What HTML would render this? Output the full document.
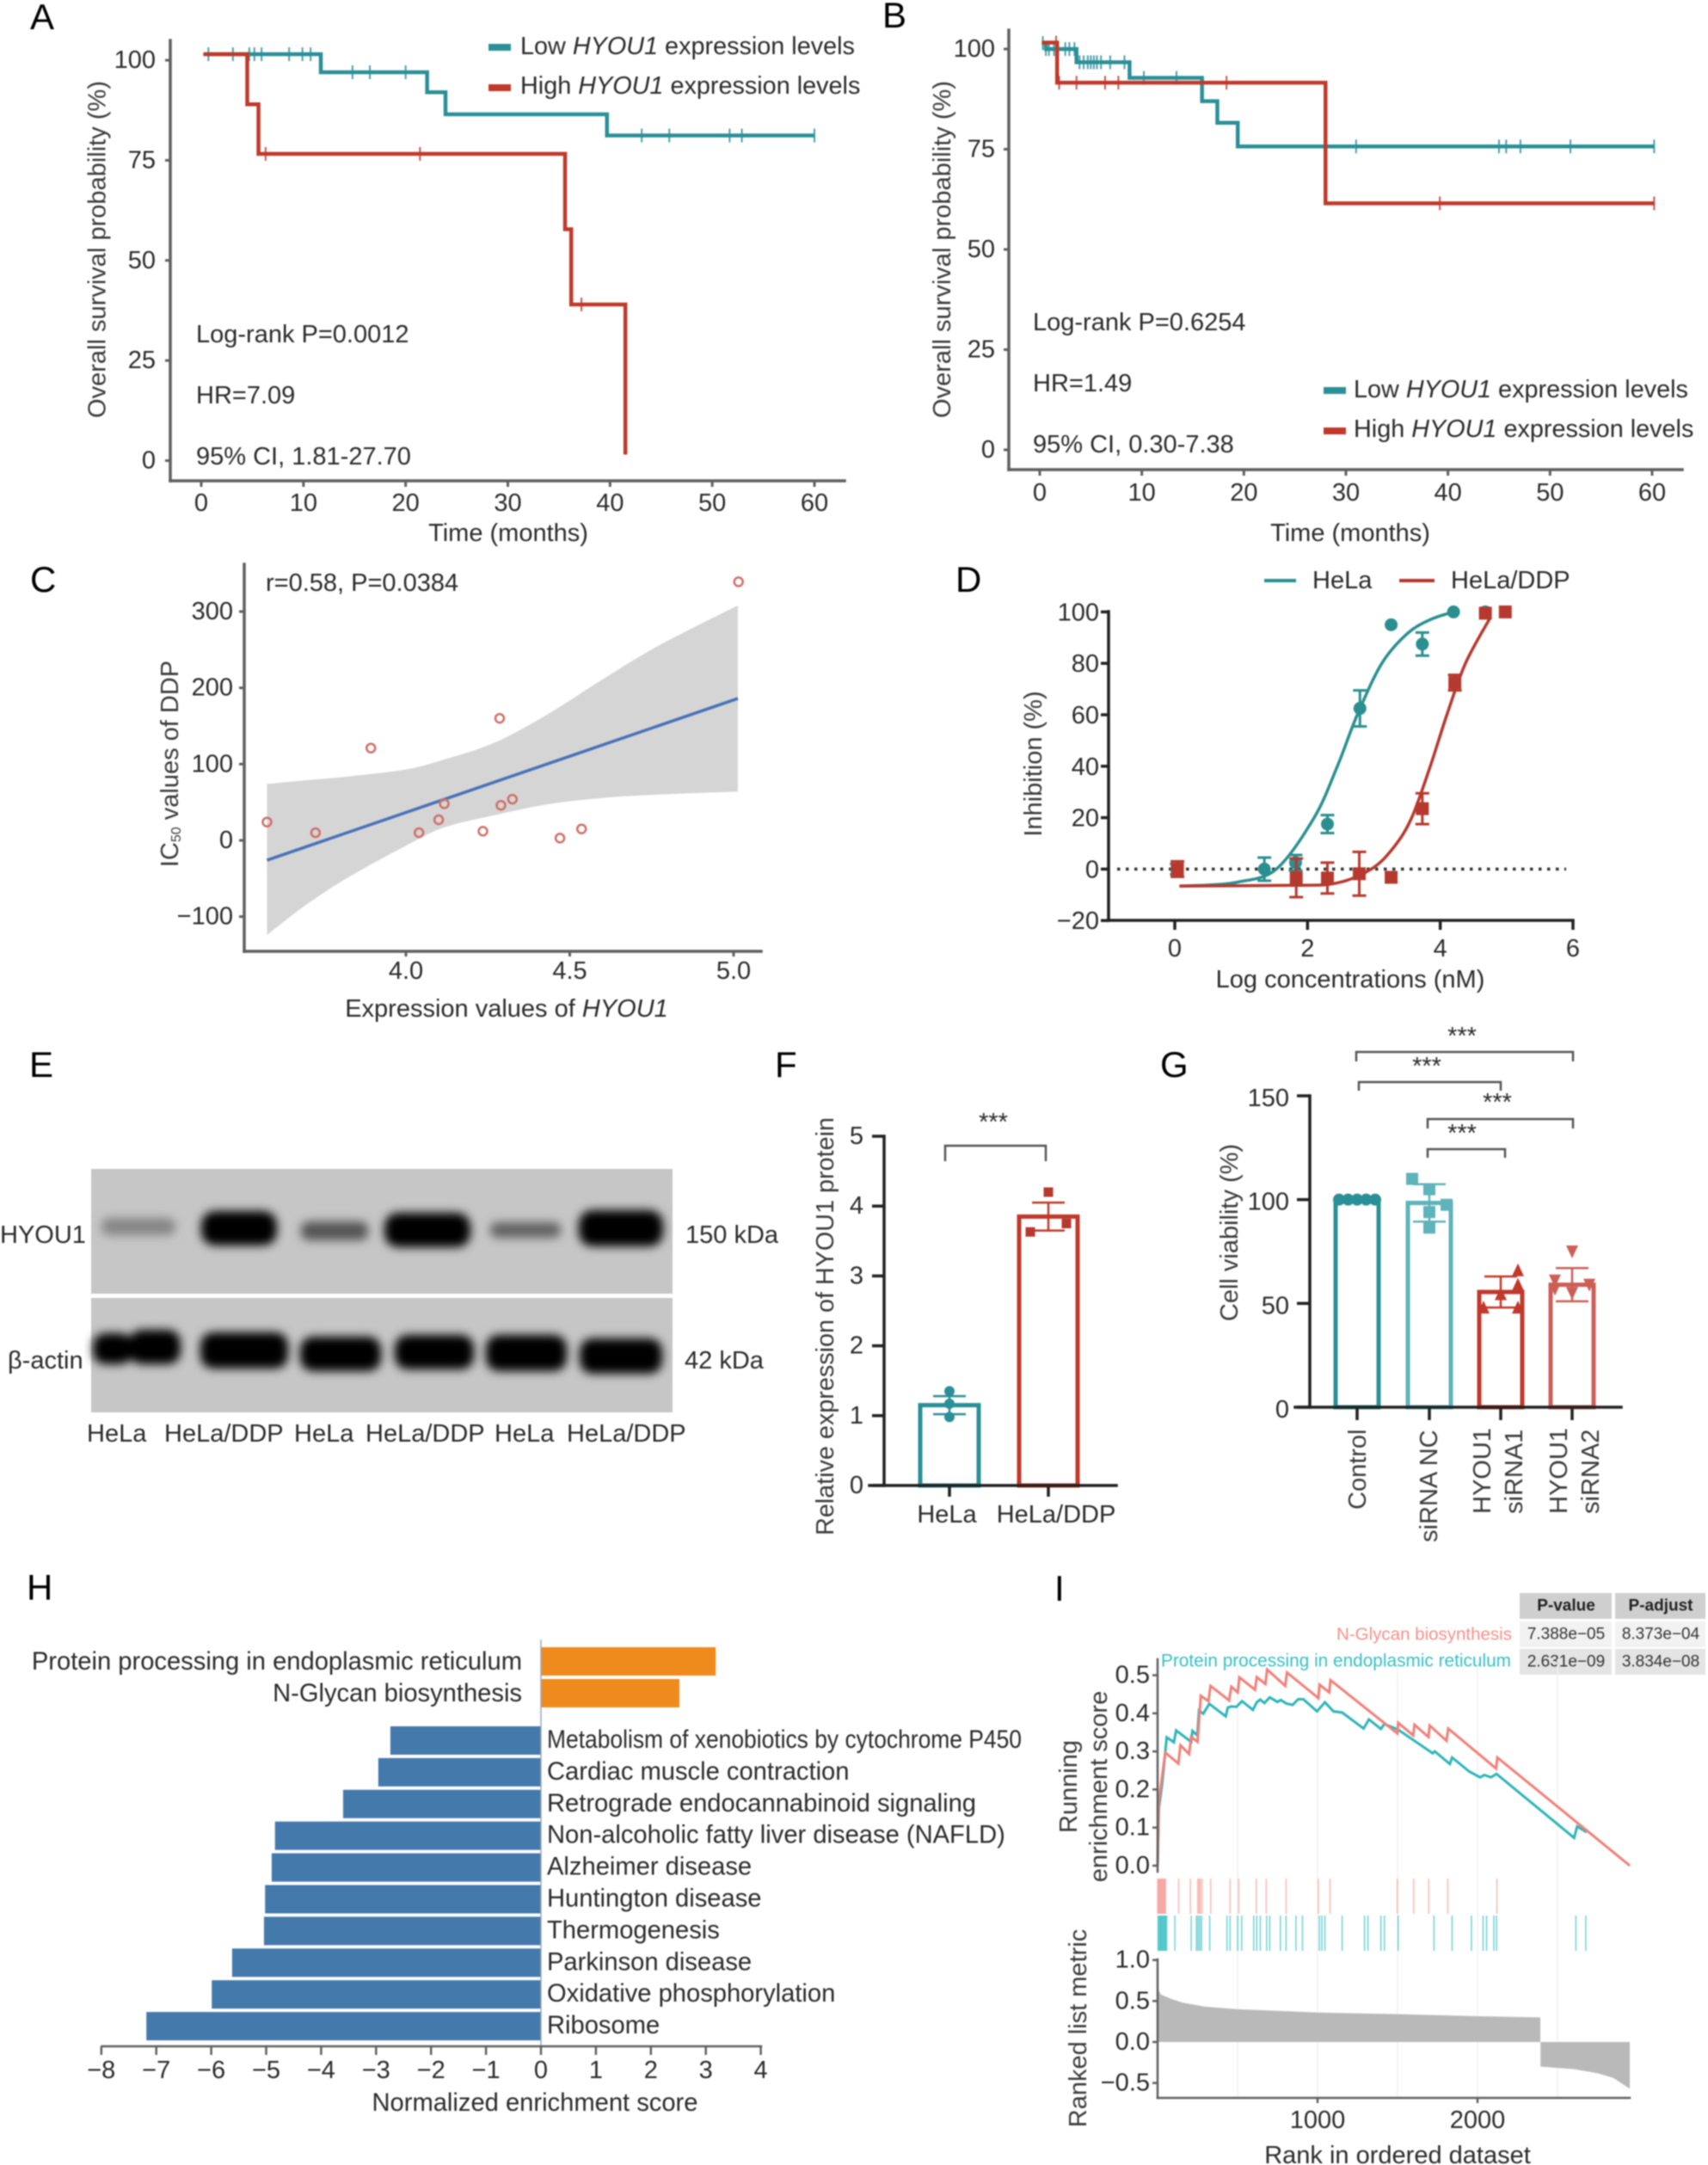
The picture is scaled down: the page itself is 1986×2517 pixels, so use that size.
<!DOCTYPE html>
<html lang="en">
<head>
<meta charset="utf-8">
<title>HYOU1 multi-panel figure</title>
<style>
  html,body{margin:0;padding:0;background:#fff;}
  #figure{display:block;width:1986px;height:2517px;filter:blur(0.8px);}
  text{font-family:"Liberation Sans",Arial,sans-serif;fill:#2b2b2b;font-size:29px;dominant-baseline:central;}
  .letter{font-size:42px;fill:#000;dominant-baseline:auto;}
  .mid{text-anchor:middle;}
  .end{text-anchor:end;}
  .ttl{fill:#3a3a3a;}
  .lgd{font-size:28.8px;}
  .star{font-size:29px;text-anchor:middle;}
  .tbl{font-size:19px;text-anchor:middle;fill:#333;}
  .tblh{font-size:19px;text-anchor:middle;font-weight:bold;fill:#222;}
</style>
</head>
<body>
<svg id="figure" xmlns="http://www.w3.org/2000/svg" width="1986" height="2517" viewBox="0 0 1986 2517">
  <defs>
    <filter id="blur-band" x="-30%" y="-60%" width="160%" height="220%"><feGaussianBlur stdDeviation="5.5"/></filter>
  </defs>
  <rect x="0" y="0" width="1986" height="2517" fill="#fff"/>

  <text class="letter" x="35" y="34">A</text>
  <text class="letter" x="1026" y="32">B</text>
  <text class="letter" x="35" y="688">C</text>
  <text class="letter" x="1111" y="688">D</text>
  <text class="letter" x="34" y="1252">E</text>
  <text class="letter" x="901" y="1252">F</text>
  <text class="letter" x="1349" y="1252">G</text>
  <text class="letter" x="31" y="1860">H</text>
  <text class="letter" x="1226" y="1861">I</text>

  <!-- Panel A -->
  <g id="panel-a">
    <text class="mid ttl" transform="translate(113.5 290) rotate(-90)" textLength="392" lengthAdjust="spacingAndGlyphs">Overall survival probability (%)</text>
    <text class="mid" x="591" y="620">Time (months)</text>
    <rect x="568" y="51" width="26" height="8" fill="#2b8f97"/>
    <rect x="568" y="98" width="26" height="8" fill="#c0392b"/>
    <text class="lgd" x="605" y="54">Low <tspan font-style="italic">HYOU1</tspan> expression levels</text>
    <text class="lgd" x="605" y="100">High <tspan font-style="italic">HYOU1</tspan> expression levels</text>
    <text x="228" y="389">Log-rank P=0.0012</text>
    <text x="228" y="460">HR=7.09</text>
    <text x="228" y="531">95% CI, 1.81-27.70</text>
  </g>

  <!-- Panel B -->
  <g id="panel-b">
    <text class="mid ttl" transform="translate(1096 290) rotate(-90)" textLength="392" lengthAdjust="spacingAndGlyphs">Overall survival probability (%)</text>
    <text class="mid" x="1570" y="620">Time (months)</text>
    <rect x="1539" y="450" width="26" height="8" fill="#2b8f97"/>
    <rect x="1539" y="497" width="26" height="8" fill="#c0392b"/>
    <text class="lgd" x="1574" y="453">Low <tspan font-style="italic">HYOU1</tspan> expression levels</text>
    <text class="lgd" x="1574" y="499">High <tspan font-style="italic">HYOU1</tspan> expression levels</text>
    <text x="1201" y="375">Log-rank P=0.6254</text>
    <text x="1201" y="446">HR=1.49</text>
    <text x="1201" y="517">95% CI, 0.30-7.38</text>
  </g>

  <!-- Panel C -->
  <g id="panel-c">
    <text class="mid ttl" transform="translate(198 888) rotate(-90)">IC<tspan font-size="16" dy="7">50</tspan><tspan dy="-7"> values of DDP</tspan></text>
    <text class="mid" x="589" y="1173">Expression values of <tspan font-style="italic">HYOU1</tspan></text>
    <text x="309" y="678">r=0.58, P=0.0384</text>
  </g>

  <!-- Panel D -->
  <g id="panel-d">
    <text class="mid ttl" transform="translate(1202 888) rotate(-90)">Inhibition (%)</text>
    <text class="mid" x="1570" y="1139">Log concentrations (nM)</text>
    <line x1="1470" x2="1507" y1="675" y2="675" stroke="#2b8f8f" stroke-width="4"/>
    <line x1="1627" x2="1668" y1="675" y2="675" stroke="#b5392e" stroke-width="4"/>
    <text x="1526" y="675">HeLa</text>
    <text x="1687" y="675">HeLa/DDP</text>
  </g>

  <!-- Panel E -->
  <g id="panel-e">
    <rect x="106" y="1359" width="676" height="145" fill="#c6c6c6"/>
    <rect x="106" y="1509" width="676" height="133" fill="#c6c6c6"/>
    <g filter="url(#blur-band)">
      <rect x="118" y="1416" width="86" height="20" rx="9" fill="#858585"/>
      <rect x="234" y="1408" width="88" height="40" rx="16" fill="#000"/>
      <rect x="350" y="1420" width="78" height="22" rx="9" fill="#555"/>
      <rect x="447" y="1410" width="100" height="40" rx="16" fill="#000"/>
      <rect x="570" y="1421" width="82" height="18" rx="8" fill="#606060"/>
      <rect x="673" y="1407" width="98" height="42" rx="16" fill="#000"/>
    </g>
    <g filter="url(#blur-band)">
      <rect x="108" y="1550" width="46" height="36" rx="14" fill="#000"/>
      <rect x="150" y="1546" width="60" height="40" rx="15" fill="#000"/>
      <rect x="233" y="1549" width="102" height="42" rx="15" fill="#000"/>
      <rect x="349" y="1554" width="94" height="40" rx="15" fill="#000"/>
      <rect x="459" y="1552" width="92" height="40" rx="15" fill="#000"/>
      <rect x="565" y="1552" width="94" height="42" rx="15" fill="#000"/>
      <rect x="674" y="1556" width="96" height="41" rx="15" fill="#000"/>
    </g>
    <text x="0" y="1436">HYOU1</text>
    <text x="9" y="1582">β-actin</text>
    <text x="797" y="1436">150 kDa</text>
    <text x="796" y="1582">42 kDa</text>
    <text x="101" y="1667">HeLa</text>
    <text x="191" y="1667">HeLa/DDP</text>
    <text x="342" y="1667">HeLa</text>
    <text x="425" y="1667">HeLa/DDP</text>
    <text x="575" y="1667">HeLa</text>
    <text x="659" y="1667">HeLa/DDP</text>
  </g>

  <!-- Panel F -->
  <g id="panel-f">
    <text class="mid ttl" transform="translate(960 1542) rotate(-90)" textLength="486" lengthAdjust="spacingAndGlyphs">Relative expression of HYOU1 protein</text>
    <path d="M1099 1350V1332H1216V1350" fill="none" stroke="#555" stroke-width="2.5"/>
    <text class="star" x="1155" y="1305">***</text>
  </g>

  <!-- Panel G -->
  <g id="panel-g">
    <text class="mid ttl" transform="translate(1430 1433) rotate(-90)">Cell viability (%)</text>
    <path d="M1577 1234V1223H1829V1234" fill="none" stroke="#555" stroke-width="2.5"/>
    <path d="M1580 1268V1258H1745V1268" fill="none" stroke="#555" stroke-width="2.5"/>
    <path d="M1660 1312V1301H1829V1312" fill="none" stroke="#555" stroke-width="2.5"/>
    <path d="M1660 1346V1336H1750V1346" fill="none" stroke="#555" stroke-width="2.5"/>
    <text class="star" x="1700" y="1205">***</text>
    <text class="star" x="1659" y="1240">***</text>
    <text class="star" x="1741" y="1282">***</text>
    <text class="star" x="1700" y="1318">***</text>
    <text class="ttl" transform="translate(1579 1755) rotate(-90)">Control</text>
    <text class="ttl" transform="translate(1662 1793) rotate(-90)">siRNA NC</text>
    <text class="ttl" transform="translate(1724 1760) rotate(-90)">HYOU1</text>
    <text class="ttl" transform="translate(1761 1760) rotate(-90)">siRNA1</text>
    <text class="ttl" transform="translate(1813 1760) rotate(-90)">HYOU1</text>
    <text class="ttl" transform="translate(1850 1760) rotate(-90)">siRNA2</text>
  </g>

  <!-- Panel H -->
  <g id="panel-h">
    <text class="mid" x="622" y="2445" style="font-size:29.15px">Normalized enrichment score</text>
  </g>

  <!-- Panel I -->
  <g id="panel-i">
    <text class="mid ttl" transform="translate(1243 2077) rotate(-90)">Running</text>
    <text class="mid ttl" transform="translate(1278 2077) rotate(-90)">enrichment score</text>
    <text class="mid ttl" transform="translate(1254 2358) rotate(-90)">Ranked list metric</text>
    <text class="mid" x="1625" y="2506">Rank in ordered dataset</text>
    <text class="end" x="1758" y="1900" style="fill:#f4908a;font-size:20.5px">N-Glycan biosynthesis</text>
    <text class="end" x="1757" y="1931" style="fill:#35bfc2;font-size:21px" textLength="407" lengthAdjust="spacingAndGlyphs">Protein processing in endoplasmic reticulum</text>
    <g>
      <rect x="1767" y="1852" width="107" height="30" fill="#cfcfcf"/>
      <rect x="1878" y="1852" width="105" height="30" fill="#cfcfcf"/>
      <rect x="1767" y="1885" width="107" height="30" fill="#f2f2f2"/>
      <rect x="1878" y="1885" width="105" height="30" fill="#f2f2f2"/>
      <rect x="1767" y="1917" width="107" height="30" fill="#e4e4e4"/>
      <rect x="1878" y="1917" width="105" height="30" fill="#e4e4e4"/>
      <text class="tblh" x="1821" y="1867">P-value</text>
      <text class="tblh" x="1931" y="1867">P-adjust</text>
      <text class="tbl" x="1821" y="1900">7.388e−05</text>
      <text class="tbl" x="1931" y="1900">8.373e−04</text>
      <text class="tbl" x="1821" y="1932">2.631e−09</text>
      <text class="tbl" x="1931" y="1932">3.834e−08</text>
    </g>
  </g>
</svg>

<script>
/* ---------- Panel A data ---------- */
const aXTicks = [0, 10, 20, 30, 40, 50, 60];
const aYTicks = [0, 25, 50, 75, 100];
const aLowTimes = [0.5, 11.7, 22.1, 23.9, 39.7];
const aLowSurv = [101.5, 97, 92, 86.5, 81.2];
const aLowEnd = 60;
const aLowCensor = [0.7, 3.1, 4.7, 5.2, 5.9, 8.6, 9.9, 10.7, 14.8, 16.5, 20, 43.1, 45.8, 51.7, 52.9, 60];
const aHighTimes = [0.2, 4.5, 5.6, 35.6, 36.2, 41.5];
const aHighSurv = [101.5, 89, 76.6, 57.8, 39, 1.5];
const aHighEnd = 41.5;
const aHighCensor = [6.3, 21.4, 37.2];

/* ---------- Panel B data ---------- */
const bXTicks = [0, 10, 20, 30, 40, 50, 60];
const bYTicks = [0, 25, 50, 75, 100];
const bLowTimes = [0.2, 0.6, 3.6, 8.8, 15.9, 17.4, 19.4];
const bLowSurv = [101.5, 100, 96.7, 92.8, 87, 81.6, 75.7];
const bLowEnd = 60.2;
const bLowCensor = [0.3, 0.6, 0.9, 1.4, 1.8, 2.5, 2.9, 3.4, 3.9, 4.3, 4.7, 5, 5.3, 5.6, 6, 6.9, 8.3, 10.2, 13.4, 31, 45, 45.7, 47.1, 52, 60.2];
const bHighTimes = [0.2, 1.7, 28];
const bHighSurv = [101.6, 91.6, 61.5];
const bHighEnd = 60.2;
const bHighCensor = [1.6, 1.9, 3.6, 6.4, 7.7, 18.3, 39.2, 60.2];

/* ---------- Panel C data ---------- */
const cXTicks = [4.0, 4.5, 5.0];
const cYTicks = [-100, 0, 100, 200, 300];
const cPointX = [3.576, 3.724, 3.893, 4.04, 4.10, 4.117, 4.235, 4.286, 4.29, 4.325, 4.47, 4.536, 5.015];
const cPointY = [24, 10, 121, 10, 27, 48, 12, 160, 46, 54, 3, 15, 339];
const cFitX = [3.576, 5.013];
const cFitY = [-26, 186];
const cRibbonX = [3.576, 3.70, 3.83, 4.0, 4.117, 4.27, 4.435, 4.6, 4.77, 5.013];
const cRibbonUpper = [74, 79, 84, 93, 106, 128, 166, 211, 255, 308];
const cRibbonLower = [-124, -83, -47, -7, 17, 33, 47.5, 55.6, 60, 64];

/* ---------- Panel D data ---------- */
const dXTicks = [0, 2, 4, 6];
const dYTicks = [-20, 0, 20, 40, 60, 80, 100];
const dHelaX = [0.03, 1.35, 1.82, 2.3, 2.79, 3.26, 3.73, 4.2, 4.68];
const dHelaY = [0, 0, 2.5, 17.5, 62.5, 95, 87.5, 100, 100];
const dHelaErr = [2, 4.5, 3, 3.5, 7, 0, 4.5, 0, 0];
const dDdpX = [0.04, 1.83, 2.3, 2.78, 3.26, 3.73, 4.22, 4.68, 4.98];
const dDdpY = [0, -3.4, -3.5, -1.8, -3.2, 23.5, 72.5, 99.5, 100];
const dDdpErr = [3, 7.5, 6, 8.5, 0, 6, 3, 0, 0];
const dHelaCurveX = [0.07, 0.5, 0.96, 1.53, 2.1, 2.45, 2.75, 3.12, 3.5, 3.85, 4.2];
const dHelaCurveY = [-6.6, -6.2, -5, 0, 20, 40, 60, 80, 91.5, 97, 100];
const dDdpCurveX = [0.07, 1.78, 2.43, 2.96, 3.3, 3.57, 3.85, 4.1, 4.38, 4.75];
const dDdpCurveY = [-6.6, -6.3, -5.5, 0, 8.5, 20, 40, 60, 80, 97.6];

/* ---------- Panel F data ---------- */
const fYTicks = [0, 1, 2, 3, 4, 5];
const fCategories = ['HeLa', 'HeLa/DDP'];
const fMeans = [1.15, 3.85];
const fErrors = [0.13, 0.2];
const fHelaPoints = [1.35, 1.17, 0.98];
const fDdpPoints = [4.2, 3.63, 3.75];
const fDdpSlots = [0, -1, 1];

/* ---------- Panel G data ---------- */
const gYTicks = [0, 50, 100, 150];
const gMeans = [100, 98.4, 55.5, 59];
const gErrors = [0, 9, 7.5, 8];
const gControlPoints = [100, 100, 100, 100, 100];
const gControlSlots = [-1, -0.5, 0, 0.5, 1];
const gNcPoints = [110, 105, 97.5, 94, 86.5];
const gNcSlots = [-1, 0, 1, 0, 0];
const gSi1Points = [66, 59, 54.5, 48, 48];
const gSi1Slots = [1, 1, 0, -1, 1];
const gSi2Points = [75, 61, 59, 55, 57];
const gSi2Slots = [0, -1, 1, 0, -1];

/* ---------- Panel H data ---------- */
const hXTicks = [-8, -7, -6, -5, -4, -3, -2, -1, 0, 1, 2, 3, 4];
const hUpCategories = ['Protein processing in endoplasmic reticulum', 'N-Glycan biosynthesis'];
const hUpValues = [3.18, 2.52];
const hDownCategories = ['Metabolism of xenobiotics by cytochrome P450', 'Cardiac muscle contraction', 'Retrograde endocannabinoid signaling', 'Non-alcoholic fatty liver disease (NAFLD)', 'Alzheimer disease', 'Huntington disease', 'Thermogenesis', 'Parkinson disease', 'Oxidative phosphorylation', 'Ribosome'];
const hDownValues = [-2.74, -2.96, -3.6, -4.84, -4.9, -5.02, -5.04, -5.62, -5.99, -7.18];

/* ---------- Panel I data ---------- */
const iEsTicks = [0.0, 0.1, 0.2, 0.3, 0.4, 0.5];
const iMetricTicks = [-0.5, 0.0, 0.5, 1.0];
const iRankTicks = [1000, 2000];
const iGridRanks = [500, 1000, 1500, 2000, 2500];
const iRedRank = [0, 8, 48, 130, 143, 197, 210, 250, 270, 318, 331, 447, 461, 501, 512, 609, 620, 674, 685, 798, 809, 1005, 1013, 1073, 1081, 1499, 1504, 1598, 1606, 1693, 1701, 1806, 1817, 2116, 2124, 2952];
const iRedEs = [0, 0.17, 0.297, 0.268, 0.316, 0.293, 0.338, 0.325, 0.446, 0.432, 0.472, 0.434, 0.47, 0.455, 0.494, 0.462, 0.495, 0.477, 0.515, 0.472, 0.507, 0.44, 0.475, 0.455, 0.487, 0.347, 0.375, 0.342, 0.37, 0.338, 0.368, 0.328, 0.36, 0.255, 0.284, 0];
const iTealRank = [0, 8, 30, 57, 102, 116, 210, 218, 248, 259, 286, 323, 426, 439, 461, 493, 528, 596, 620, 642, 668, 701, 749, 771, 803, 844, 879, 911, 997, 1046, 1100, 1154, 1288, 1321, 1396, 1418, 1504, 1720, 1733, 1827, 1841, 1949, 2016, 2043, 2084, 2119, 2604, 2623, 2682];
const iTealEs = [0, 0.15, 0.22, 0.337, 0.324, 0.355, 0.325, 0.354, 0.342, 0.407, 0.399, 0.425, 0.392, 0.415, 0.418, 0.417, 0.432, 0.409, 0.429, 0.436, 0.427, 0.442, 0.43, 0.435, 0.426, 0.422, 0.437, 0.437, 0.405, 0.429, 0.405, 0.402, 0.36, 0.384, 0.359, 0.372, 0.357, 0.295, 0.3, 0.267, 0.284, 0.247, 0.232, 0.238, 0.232, 0.241, 0.073, 0.103, 0.088];
const iRedRug = [0, 5, 10, 15, 20, 25, 30, 35, 40, 45, 50, 132, 205, 251, 259, 267, 278, 332, 453, 507, 617, 679, 803, 1005, 1078, 1499, 1601, 1695, 1814, 2121];
const iTealRug = [3, 8, 13, 18, 22, 27, 32, 37, 42, 47, 52, 57, 108, 210, 243, 253, 264, 275, 326, 434, 453, 501, 526, 601, 620, 642, 682, 701, 768, 803, 865, 906, 1011, 1027, 1046, 1154, 1294, 1315, 1396, 1418, 1504, 1728, 1841, 1962, 2035, 2057, 2102, 2119, 2615, 2677];
const iMetricPosRank = [0, 20, 80, 156, 300, 500, 1000, 1500, 2000, 2393];
const iMetricPosVal = [0.66, 0.58, 0.53, 0.48, 0.43, 0.40, 0.36, 0.34, 0.315, 0.30];
const iMetricNegRank = [2394, 2600, 2750, 2850, 2952];
const iMetricNegVal = [-0.30, -0.33, -0.38, -0.44, -0.57];

/* ---------- helpers ---------- */
const NS = 'http://www.w3.org/2000/svg';
function mk(tag, attrs, parent) {
  const el = document.createElementNS(NS, tag);
  for (const k in attrs) el.setAttribute(k, attrs[k]);
  parent.appendChild(el);
  return el;
}
function linear(d0, d1, r0, r1) {
  return function (v) { return r0 + (v - d0) * (r1 - r0) / (d1 - d0); };
}
function minus(s) { return String(s).replace('-', '−'); }

function axisLine(g, x1, y1, x2, y2, color, w) {
  const el = mk('line', {x1: x1, y1: y1, x2: x2, y2: y2, stroke: color, 'stroke-width': w, 'stroke-linecap': 'square'}, g);
  
  
}
function xTicks(g, scale, ticks, yPos, len, labelY, color, w, fmt) {
  ticks.forEach(function (v) {
    const t = mk('line', {x1: scale(v), x2: scale(v), y1: yPos, y2: yPos + len, stroke: color, 'stroke-width': w}, g);
    
    
    const l = mk('text', {x: scale(v), y: labelY, class: 'mid'}, g);
    
    
    l.textContent = fmt ? fmt(v) : minus(v);
  });
}
function yTicks(g, scale, ticks, xPos, len, labelX, color, w, fmt, labelShift) {
  ticks.forEach(function (v) {
    const t = mk('line', {x1: xPos - len, x2: xPos, y1: scale(v), y2: scale(v), stroke: color, 'stroke-width': w}, g);
    
    
    const l = mk('text', {x: labelX, y: scale(v) + (labelShift || 0), class: 'end'}, g);
    
    
    l.textContent = fmt ? fmt(v) : minus(v);
  });
}
function stepAt(times, surv, t) {
  let s = surv[0];
  for (let i = 0; i < times.length; i++) { if (t >= times[i]) s = surv[i]; }
  return s;
}
function drawKM(g, x, y, times, surv, end, color, censor, markY) {
  let d = 'M' + x(times[0]) + ' ' + y(surv[0]);
  for (let i = 1; i < times.length; i++) d += 'H' + x(times[i]) + 'V' + y(surv[i]);
  d += 'H' + x(end);
  const p = mk('path', {d: d, fill: 'none', stroke: color, 'stroke-width': 4.5}, g);
  
  
  censor.forEach(function (t) {
    const yy = y(stepAt(times, surv, t));
    const c = mk('line', {x1: x(t), x2: x(t), y1: yy - markY, y2: yy + markY, stroke: color, 'stroke-width': 2, opacity: 0.85}, g);
    
    
  });
}
function smoothPath(xs, ys) {
  let d = 'M' + xs[0] + ' ' + ys[0];
  for (let i = 0; i < xs.length - 1; i++) {
    const i0 = Math.max(i - 1, 0), i3 = Math.min(i + 2, xs.length - 1);
    const c1x = xs[i] + (xs[i + 1] - xs[i0]) / 6, c1y = ys[i] + (ys[i + 1] - ys[i0]) / 6;
    const c2x = xs[i + 1] - (xs[i3] - xs[i]) / 6, c2y = ys[i + 1] - (ys[i3] - ys[i]) / 6;
    d += 'C' + c1x + ' ' + c1y + ' ' + c2x + ' ' + c2y + ' ' + xs[i + 1] + ' ' + ys[i + 1];
  }
  return d;
}
function errorBar(g, cx, yHi, yLo, cap, color, w) {
  const el = mk('path', {d: 'M' + (cx - cap) + ' ' + yHi + 'H' + (cx + cap) + 'M' + cx + ' ' + yHi + 'V' + yLo + 'M' + (cx - cap) + ' ' + yLo + 'H' + (cx + cap), fill: 'none', stroke: color, 'stroke-width': w}, g);
  
  
}
function marker(g, kind, cx, cy, r, color) {
  let el;
  if (kind === 'circle') {
    el = mk('circle', {cx: cx, cy: cy, r: r, fill: color}, g);
  } else if (kind === 'square') {
    el = mk('rect', {x: cx - r, y: cy - r, width: 2 * r, height: 2 * r, fill: color}, g);
  } else if (kind === 'up') {
    el = mk('polygon', {points: cx + ',' + (cy - r - 1) + ' ' + (cx + r) + ',' + (cy + r) + ' ' + (cx - r) + ',' + (cy + r), fill: color}, g);
  } else {
    el = mk('polygon', {points: cx + ',' + (cy + r + 1) + ' ' + (cx + r) + ',' + (cy - r) + ' ' + (cx - r) + ',' + (cy - r), fill: color}, g);
  }
  
  
}
function outlineBar(g, cx, halfW, yTop, yBase, color, w) {
  const el = mk('rect', {x: cx - halfW, y: yTop, width: 2 * halfW, height: yBase - yTop, fill: 'none', stroke: color, 'stroke-width': w}, g);
  
  
}

const TEAL = '#2b8f97', RED = '#c0392b', GREY = '#606060', INK = '#222';

/* ---------- Panel A ---------- */
(function () {
  const g = document.getElementById('panel-a');
  const x = linear(0, 60, 234, 947), y = linear(0, 100, 535.5, 70);
  axisLine(g, 198, 47, 198, 559, GREY, 3.5);
  axisLine(g, 198, 559, 982, 559, GREY, 3.5);
  xTicks(g, x, aXTicks, 559, 7, 585, GREY, 3);
  yTicks(g, y, aYTicks, 198, 6, 181, GREY, 3);
  drawKM(g, x, y, aLowTimes, aLowSurv, aLowEnd, TEAL, aLowCensor, 8);
  drawKM(g, x, y, aHighTimes, aHighSurv, aHighEnd, RED, aHighCensor, 8);
})();

/* ---------- Panel B ---------- */
(function () {
  const g = document.getElementById('panel-b');
  const x = linear(0, 60, 1209, 1921), y = linear(0, 100, 523, 57);
  axisLine(g, 1173, 35, 1173, 546, GREY, 3.5);
  axisLine(g, 1173, 546, 1956, 546, GREY, 3.5);
  xTicks(g, x, bXTicks, 546, 7, 573, GREY, 3);
  yTicks(g, y, bYTicks, 1173, 6, 1157, GREY, 3);
  drawKM(g, x, y, bLowTimes, bLowSurv, bLowEnd, TEAL, bLowCensor, 8);
  drawKM(g, x, y, bHighTimes, bHighSurv, bHighEnd, RED, bHighCensor, 8);
})();

/* ---------- Panel C ---------- */
(function () {
  const g = document.getElementById('panel-c');
  const x = linear(4, 5, 472, 853), y = linear(0, 300, 977, 711);
  const upper = smoothPath(cRibbonX.map(x), cRibbonUpper.map(y));
  const lowerX = cRibbonX.map(x).reverse();
  const lowerY = cRibbonLower.map(y).reverse();
  const lower = smoothPath(lowerX, lowerY).replace('M', 'L');
  const rib = mk('path', {d: upper + lower + 'Z', fill: '#d5d5d5'}, g);
  
  
  const fit = mk('line', {x1: x(cFitX[0]), y1: y(cFitY[0]), x2: x(cFitX[1]), y2: y(cFitY[1]), stroke: '#4a72b8', 'stroke-width': 3.5}, g);
  
  
  cPointX.forEach(function (v, i) {
    const c = mk('circle', {cx: x(v), cy: y(cPointY[i]), r: 5, fill: 'none', stroke: '#cf6f68', 'stroke-width': 2.5}, g);
    
    
  });
  axisLine(g, 284, 656, 284, 1106, GREY, 3.5);
  axisLine(g, 284, 1106, 885, 1106, GREY, 3.5);
  xTicks(g, x, cXTicks, 1106, 6, 1129, GREY, 3, function (v) { return v.toFixed(1); });
  yTicks(g, y, cYTicks, 284, 6, 271, GREY, 3);
})();

/* ---------- Panel D ---------- */
(function () {
  const g = document.getElementById('panel-d');
  const x = linear(0, 6, 1366, 1829), y = linear(0, 100, 1010.4, 711.4);
  const zero = mk('line', {x1: 1299, x2: 1821, y1: y(0), y2: y(0), stroke: '#333', 'stroke-width': 3.5, 'stroke-dasharray': '3.5 6.5'}, g);
  
  
  const c1 = mk('path', {d: smoothPath(dHelaCurveX.map(x), dHelaCurveY.map(y)), fill: 'none', stroke: '#2b8f8f', 'stroke-width': 3.5}, g);
  
  
  const c2 = mk('path', {d: smoothPath(dDdpCurveX.map(x), dDdpCurveY.map(y)), fill: 'none', stroke: '#b5392e', 'stroke-width': 3.5}, g);
  
  
  dHelaX.forEach(function (v, i) {
    if (dHelaErr[i]) errorBar(g, x(v), y(dHelaY[i] + dHelaErr[i]), y(dHelaY[i] - dHelaErr[i]), 8, '#2b8f8f', 3);
    marker(g, 'circle', x(v), y(dHelaY[i]), 7.5, '#2b8f8f');
  });
  dDdpX.forEach(function (v, i) {
    if (dDdpErr[i]) errorBar(g, x(v), y(dDdpY[i] + dDdpErr[i]), y(dDdpY[i] - dDdpErr[i]), 8, '#b5392e', 3);
    marker(g, 'square', x(v), y(dDdpY[i]), 7.5, '#b5392e');
  });
  axisLine(g, 1289, 711, 1289, 1070, INK, 3.5);
  axisLine(g, 1289, 1070, 1829, 1070, INK, 3.5);
  xTicks(g, x, dXTicks, 1070, 11, 1103, INK, 3.5);
  yTicks(g, y, dYTicks, 1289, 9, 1278, INK, 3.5, null, 1);
})();

/* ---------- Panel F ---------- */
(function () {
  const g = document.getElementById('panel-f');
  const y = linear(0, 5, 1727, 1321);
  const centers = [1104, 1219];
  const colors = ['#2b8f97', '#c0392b'];
  fMeans.forEach(function (m, i) {
    outlineBar(g, centers[i], 34, y(m), y(0), colors[i], 5);
    errorBar(g, centers[i], y(m + fErrors[i]), y(m - fErrors[i]), 19, colors[i], 2.5);
    const l = mk('text', {x: centers[i] + (i ? 9 : -3), y: 1761, class: 'mid'}, g);
    
    
    l.textContent = fCategories[i];
    const t = mk('line', {x1: centers[i], x2: centers[i], y1: 1727, y2: 1740, stroke: INK, 'stroke-width': 3.5}, g);
    
    
  });
  fHelaPoints.forEach(function (v) { marker(g, 'circle', centers[0], y(v), 6, '#2b8f97'); });
  fDdpPoints.forEach(function (v, i) { marker(g, 'square', centers[1] + fDdpSlots[i] * 21, y(v), 5.5, '#b5392e'); });
  axisLine(g, 1028, 1321, 1028, 1727, INK, 3.5);
  axisLine(g, 1011, 1727, 1298, 1727, INK, 3.5);
  yTicks(g, y, fYTicks, 1028, 14, 1004, INK, 3.5);
})();

/* ---------- Panel G ---------- */
(function () {
  const g = document.getElementById('panel-g');
  const y = linear(0, 150, 1636, 1274);
  const centers = [1578, 1662, 1745, 1828];
  const colors = ['#2b8f97', '#5fb3ba', '#c0392b', '#cb5f58'];
  gMeans.forEach(function (m, i) {
    outlineBar(g, centers[i], 25, y(m), y(0), colors[i], 5);
    if (gErrors[i]) errorBar(g, centers[i], y(m + gErrors[i]), y(m - gErrors[i]), 19, colors[i], 2.5);
    const t = mk('line', {x1: centers[i], x2: centers[i], y1: 1636, y2: 1651, stroke: INK, 'stroke-width': 3.5}, g);
    
    
  });
  gControlPoints.forEach(function (v, i) { marker(g, 'circle', centers[0] + gControlSlots[i] * 21, y(v), 7, colors[0]); });
  gNcPoints.forEach(function (v, i) { marker(g, 'square', centers[1] + gNcSlots[i] * 20, y(v), 7, colors[1]); });
  gSi1Points.forEach(function (v, i) { marker(g, 'up', centers[2] + gSi1Slots[i] * 20, y(v), 7, colors[2]); });
  gSi2Points.forEach(function (v, i) { marker(g, 'down', centers[3] + gSi2Slots[i] * 20, y(v), 7, colors[3]); });
  axisLine(g, 1523, 1274, 1523, 1636, INK, 3.5);
  axisLine(g, 1506, 1636, 1885, 1636, INK, 3.5);
  yTicks(g, y, gYTicks, 1523, 15, 1499, INK, 3.5, null, 3);
})();

/* ---------- Panel H ---------- */
(function () {
  const g = document.getElementById('panel-h');
  const x = linear(0, 1, 629, 692.9);
  hUpValues.forEach(function (v, i) {
    const top = 1915 + i * 37;
    const b = mk('rect', {x: x(0), y: top, width: x(v) - x(0), height: 33, fill: '#ef8a1d'}, g);
    
    
    const l = mk('text', {x: 607, y: top + 17, class: 'end', style: 'font-size:29.15px'}, g);
    
    
    l.textContent = hUpCategories[i];
  });
  hDownValues.forEach(function (v, i) {
    const top = 2007 + i * 36.9;
    const b = mk('rect', {x: x(v), y: top, width: x(0) - x(v), height: 33, fill: '#4479ac'}, g);
    
    
    const l = mk('text', {x: 636, y: top + 16, style: 'font-size:29.15px'}, g);
    
    
    l.textContent = hDownCategories[i];
    if (i === 0) {
      l.setAttribute('textLength', 552);
      l.setAttribute('lengthAdjust', 'spacingAndGlyphs');
    }
  });
  axisLine(g, 629, 1907, 629, 2379, '#9aa7b5', 1.5);
  axisLine(g, 118.6, 2379, 885, 2379, GREY, 2.5);
  xTicks(g, x, hXTicks, 2379, 10, 2407, GREY, 2.5);
})();

/* ---------- Panel I ---------- */
(function () {
  const g = document.getElementById('panel-i');
  const x = linear(0, 1000, 1346, 1532);
  const yEs = linear(0, 0.5, 2169, 1947.6);
  const yM = linear(0, 1, 2374, 2278.7);
  iGridRanks.forEach(function (r) {
    const l = mk('line', {x1: x(r), x2: x(r), y1: 1929, y2: 2439, stroke: '#f1f1f1', 'stroke-width': 1.5}, g);
    
    
  });
  function pts(xs, ys) {
    return xs.map(function (v, i) { return x(v) + ',' + ys[i]; }).join(' ');
  }
  const teal = mk('polyline', {points: pts(iTealRank, iTealEs.map(yEs)), fill: 'none', stroke: '#2fb5b9', 'stroke-width': 3}, g);
  
  
  const red = mk('polyline', {points: pts(iRedRank, iRedEs.map(yEs)), fill: 'none', stroke: '#f0807a', 'stroke-width': 3}, g);
  
  
  iRedRug.forEach(function (r) {
    const l = mk('line', {x1: x(r), x2: x(r), y1: 2184, y2: 2225, stroke: '#f4908a', 'stroke-width': 1.6, opacity: 0.6}, g);
    
    
  });
  iTealRug.forEach(function (r) {
    const l = mk('line', {x1: x(r), x2: x(r), y1: 2227, y2: 2268, stroke: '#2fbcc0', 'stroke-width': 1.6, opacity: 0.65}, g);
    
    
  });
  let d1 = 'M' + x(iMetricPosRank[0]) + ' ' + yM(0);
  iMetricPosRank.forEach(function (r, i) { d1 += 'L' + x(r) + ' ' + yM(iMetricPosVal[i]); });
  d1 += 'L' + x(iMetricPosRank[iMetricPosRank.length - 1]) + ' ' + yM(0) + 'Z';
  const a1 = mk('path', {d: d1, fill: '#b9b9b9'}, g);
  
  
  let d2 = 'M' + x(iMetricNegRank[0]) + ' ' + yM(0);
  iMetricNegRank.forEach(function (r, i) { d2 += 'L' + x(r) + ' ' + yM(iMetricNegVal[i]); });
  d2 += 'L' + x(iMetricNegRank[iMetricNegRank.length - 1]) + ' ' + yM(0) + 'Z';
  const a2 = mk('path', {d: d2, fill: '#b9b9b9'}, g);
  
  
  axisLine(g, 1346, 1929, 1346, 2176, GREY, 2.5);
  axisLine(g, 1346, 2278, 1346, 2439, GREY, 2.5);
  axisLine(g, 1346, 2439, 1895, 2439, GREY, 2.5);
  const fmt = function (v) { return minus(v.toFixed(1)); };
  yTicks(g, yEs, iEsTicks, 1346, 6, 1337, GREY, 2.5, fmt);
  yTicks(g, yM, iMetricTicks, 1346, 6, 1337, GREY, 2.5, fmt);
  xTicks(g, x, iRankTicks, 2439, 6, 2465, GREY, 2.5);
})();
</script>
</body>
</html>
